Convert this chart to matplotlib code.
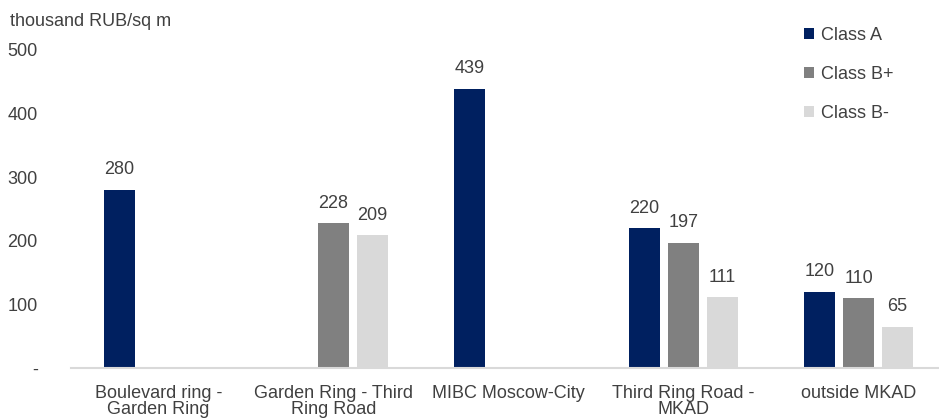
import matplotlib
matplotlib.use("Agg")
import matplotlib.pyplot as plt
import numpy as np

plt.rcParams['font.family'] = ['Liberation Sans', 'DejaVu Sans']

categories = ["Boulevard ring -\nGarden Ring", "Garden Ring - Third\nRing Road", "MIBC Moscow-City",
              "Third Ring Road -\nMKAD", "outside MKAD"]
series_names = ["Class A", "Class B+", "Class B-"]
class_a = [280, None, 439, 220, 120]
class_b_plus = [None, 228, None, 197, 110]
class_b_minus = [None, 209, None, 111, 65]
yticks = [0, 100, 200, 300, 400, 500]
ytick_labels = ["-", "100", "200", "300", "400", "500"]
colors = ["#002060", "#808080", "#D9D9D9"]
text_color = "#404040"
fs = 13

fig = plt.figure(figsize=(9.39, 4.2), dpi=100)
ax = fig.add_axes([71/939, 52/420, 875/939, 318/420])

x = np.arange(len(categories))
width = 0.178
offsets = [-0.223, 0.0, 0.223]
for vals, off, col, name in zip([class_a, class_b_plus, class_b_minus], offsets, colors, series_names):
    xs = [xi + off for xi, v in zip(x, vals) if v is not None]
    vs = [v for v in vals if v is not None]
    bars = ax.bar(xs, vs, width=width, color=col, label=name, zorder=2)
    for b, v in zip(bars, vs):
        ax.text(b.get_x() + b.get_width()/2, v + 18, str(v), ha='center', va='bottom',
                fontsize=fs, color=text_color)

ax.set_xlim(-0.5, 4.5)
ax.set_ylim(0, 500)
ax.set_yticks(yticks)
ax.set_yticklabels(ytick_labels, fontsize=fs, color=text_color)
ax.set_xticks(x)
ax.set_xticklabels(categories, fontsize=fs, color=text_color, linespacing=0.95)
ax.tick_params(axis='both', length=0)
ax.tick_params(axis='y', pad=24)
ax.tick_params(axis='x', pad=12)
for s in ['top', 'right', 'left']:
    ax.spines[s].set_visible(False)
ax.spines['bottom'].set_color("#D9D9D9")
ax.spines['bottom'].set_linewidth(1.5)

fig.text(10/939, 1 - 21/420, "thousand RUB/sq m", fontsize=fs, color=text_color, va='center', ha='left')

leg = fig.legend(loc='upper left', bbox_to_anchor=(788/939, 1 - 11/420), frameon=False,
                 fontsize=fs, labelcolor=text_color, handlelength=0.55, handleheight=0.55,
                 handletextpad=0.4, labelspacing=1.2)

fig.savefig("out.png", dpi=100)
